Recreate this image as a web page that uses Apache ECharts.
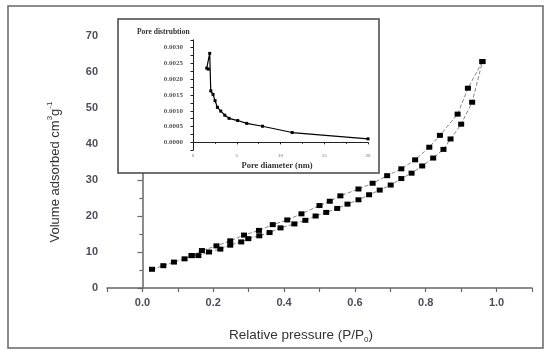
<!DOCTYPE html>
<html><head><meta charset="utf-8">
<script src="https://cdn.jsdelivr.net/npm/echarts@6/dist/echarts.min.js"></script>
<style>html,body{margin:0;padding:0;background:#fff}#c{width:550px;height:359px}</style>
</head><body><div id="c"></div>
<script>
// Main isotherm: adsorption (lower branch)
const adsX = [0.027,0.059,0.089,0.119,0.139,0.158,0.188,0.220,0.248,0.279,0.299,0.330,0.359,0.390,0.429,0.460,0.489,0.519,0.550,0.579,0.610,0.640,0.670,0.701,0.731,0.760,0.790,0.821,0.850,0.870,0.900,0.931,0.960];
const adsY = [5.2,6.2,7.2,8.1,9.0,9.0,10.0,10.8,11.9,12.8,13.7,14.5,15.4,16.7,17.8,18.8,20.0,21.0,22.1,23.3,24.5,25.9,27.2,28.6,30.4,31.9,33.9,36.1,38.5,41.4,45.5,51.6,62.9];
// Desorption (upper branch)
const desX = [0.960,0.919,0.890,0.840,0.810,0.770,0.731,0.691,0.650,0.610,0.559,0.529,0.500,0.449,0.409,0.368,0.329,0.287,0.248,0.209,0.168,0.139];
const desY = [62.9,55.5,48.3,42.4,39.1,35.6,33.1,31.2,29.1,27.5,25.6,24.1,22.9,20.6,18.9,17.6,16.0,14.7,13.1,11.7,10.4,9.0];
// Inset: pore distribution
const poreD = [1.57,1.76,1.91,2.03,2.29,2.52,2.79,3.17,3.63,4.12,5.11,6.14,7.94,11.33,20.0];
const poreV = [0.00235,0.00232,0.00282,0.00163,0.00152,0.00132,0.00111,0.00099,0.00086,0.00076,0.00069,0.00060,0.00051,0.00031,0.00011];
const mainYTicks = [0,10,20,30,40,50,60,70];

const zip = (a,b)=>a.map((v,i)=>[v,b[i]]);
const chart = echarts.init(document.getElementById('c'));
const lblColor = '#4d4d5c';
chart.setOption({
  animation:false,
  backgroundColor:'#fff',
  grid:[
    {left:107,right:18,top:36,bottom:71},
    {left:193,right:182,top:39.8,bottom:208.8}
  ],
  xAxis:[
    {gridIndex:0,type:'value',min:-0.1,max:1.1,interval:0.1,
     axisLine:{lineStyle:{color:'#666',width:1.5}},
     axisTick:{show:true,length:4,lineStyle:{color:'#666',width:1.2}},
     splitLine:{show:false},
     axisLabel:{margin:9,color:lblColor,fontFamily:'Liberation Sans',fontWeight:'bold',fontSize:11,
       formatter:v=>{const k=Math.round(v*10);return (k>=0&&k<=10&&k%2===0)?(k/10).toFixed(1):'';}}},
    {gridIndex:1,type:'value',min:0,max:20,interval:5,z:10,
     axisLine:{lineStyle:{color:'#222',width:1}},
     axisTick:{show:true,length:2,lineStyle:{color:'#222'}},
     minorTick:{show:true,splitNumber:2,length:1.5,lineStyle:{color:'#222'}},
     splitLine:{show:false},
     axisLabel:{margin:3,color:'#666',fontFamily:'Liberation Serif',fontSize:5}}
  ],
  yAxis:[
    {gridIndex:0,type:'value',min:0,max:70,interval:10,
     axisLine:{show:true,lineStyle:{color:'#666',width:1.5}},
     axisTick:{show:true,length:5,lineStyle:{color:'#666',width:1.2}},
     minorTick:{show:true,splitNumber:2,length:3,lineStyle:{color:'#666',width:1.2}},
     splitLine:{show:false},
     axisLabel:{margin:9,color:lblColor,fontFamily:'Liberation Sans',fontWeight:'bold',fontSize:11,
       formatter:v=>mainYTicks.includes(v)?String(v):''}},
    {gridIndex:1,type:'value',min:-0.00025,max:0.00325,interval:0.00025,z:10,
     axisLine:{show:true,lineStyle:{color:'#222',width:1}},
     axisTick:{show:true,length:2.5,lineStyle:{color:'#222'}},
     splitLine:{show:false},
     axisLabel:{margin:10,color:'#555',fontFamily:'Liberation Serif',fontWeight:'bold',fontSize:7,
       formatter:v=>{const k=Math.round(v/0.00025);return (k>=0&&k%2===0)?(k*0.00025).toFixed(4):'';}}}
  ],
  series:[
    {type:'line',xAxisIndex:0,yAxisIndex:0,data:zip(adsX,adsY),z:2,
     symbol:'rect',symbolSize:[6,5],itemStyle:{color:'#000'},
     lineStyle:{color:'#888',width:1,type:[4,2]}},
    {type:'line',xAxisIndex:0,yAxisIndex:0,data:zip(desX,desY),z:2,
     symbol:'rect',symbolSize:[6,5],itemStyle:{color:'#000'},
     lineStyle:{color:'#888',width:1,type:[4,2]}},
    {type:'line',xAxisIndex:1,yAxisIndex:1,data:zip(poreD,poreV),z:10,
     symbol:'rect',symbolSize:3,itemStyle:{color:'#000'},
     lineStyle:{color:'#000',width:1.2}}
  ],
  graphic:[
    {type:'rect',z:0,silent:true,shape:{x:8,y:6,width:535,height:342},
     style:{fill:'none',stroke:'#666',lineWidth:1.5}},
    {type:'rect',z:5,silent:true,shape:{x:118,y:19,width:261,height:154},
     style:{fill:'#fff',stroke:'#444',lineWidth:1.5}},
    {type:'text',z:11,x:137,y:32,style:{text:'Pore distrubtion',font:'bold 7.5px "Liberation Serif"',fill:'#333',textVerticalAlign:'middle'}},
    {type:'text',z:11,x:277,y:166,style:{text:'Pore diameter (nm)',font:'bold 8.5px "Liberation Serif"',fill:'#333',textAlign:'center',textVerticalAlign:'middle'}},
    {type:'text',z:11,x:301,y:335,style:{
      text:'{n|Relative pressure (P/P}{s|0}{n|)}',textAlign:'center',textVerticalAlign:'middle',
      rich:{n:{fontFamily:'Liberation Sans',fontSize:13.5,fill:'#333',lineHeight:18,verticalAlign:'middle'},
            s:{fontFamily:'Liberation Sans',fontSize:8,fill:'#333',lineHeight:18,verticalAlign:'bottom'}}}},
    {type:'text',z:11,x:55,y:172,rotation:Math.PI/2,style:{
      text:'{n|Volume adsorbed cm}{s|3}{n|g}{s|-1}',textAlign:'center',textVerticalAlign:'middle',
      rich:{n:{fontFamily:'Liberation Sans',fontSize:13,fill:'#333',lineHeight:18,verticalAlign:'middle'},
            s:{fontFamily:'Liberation Sans',fontSize:8,fill:'#333',lineHeight:18,verticalAlign:'top'}}}}
  ]
});
</script></body></html>
